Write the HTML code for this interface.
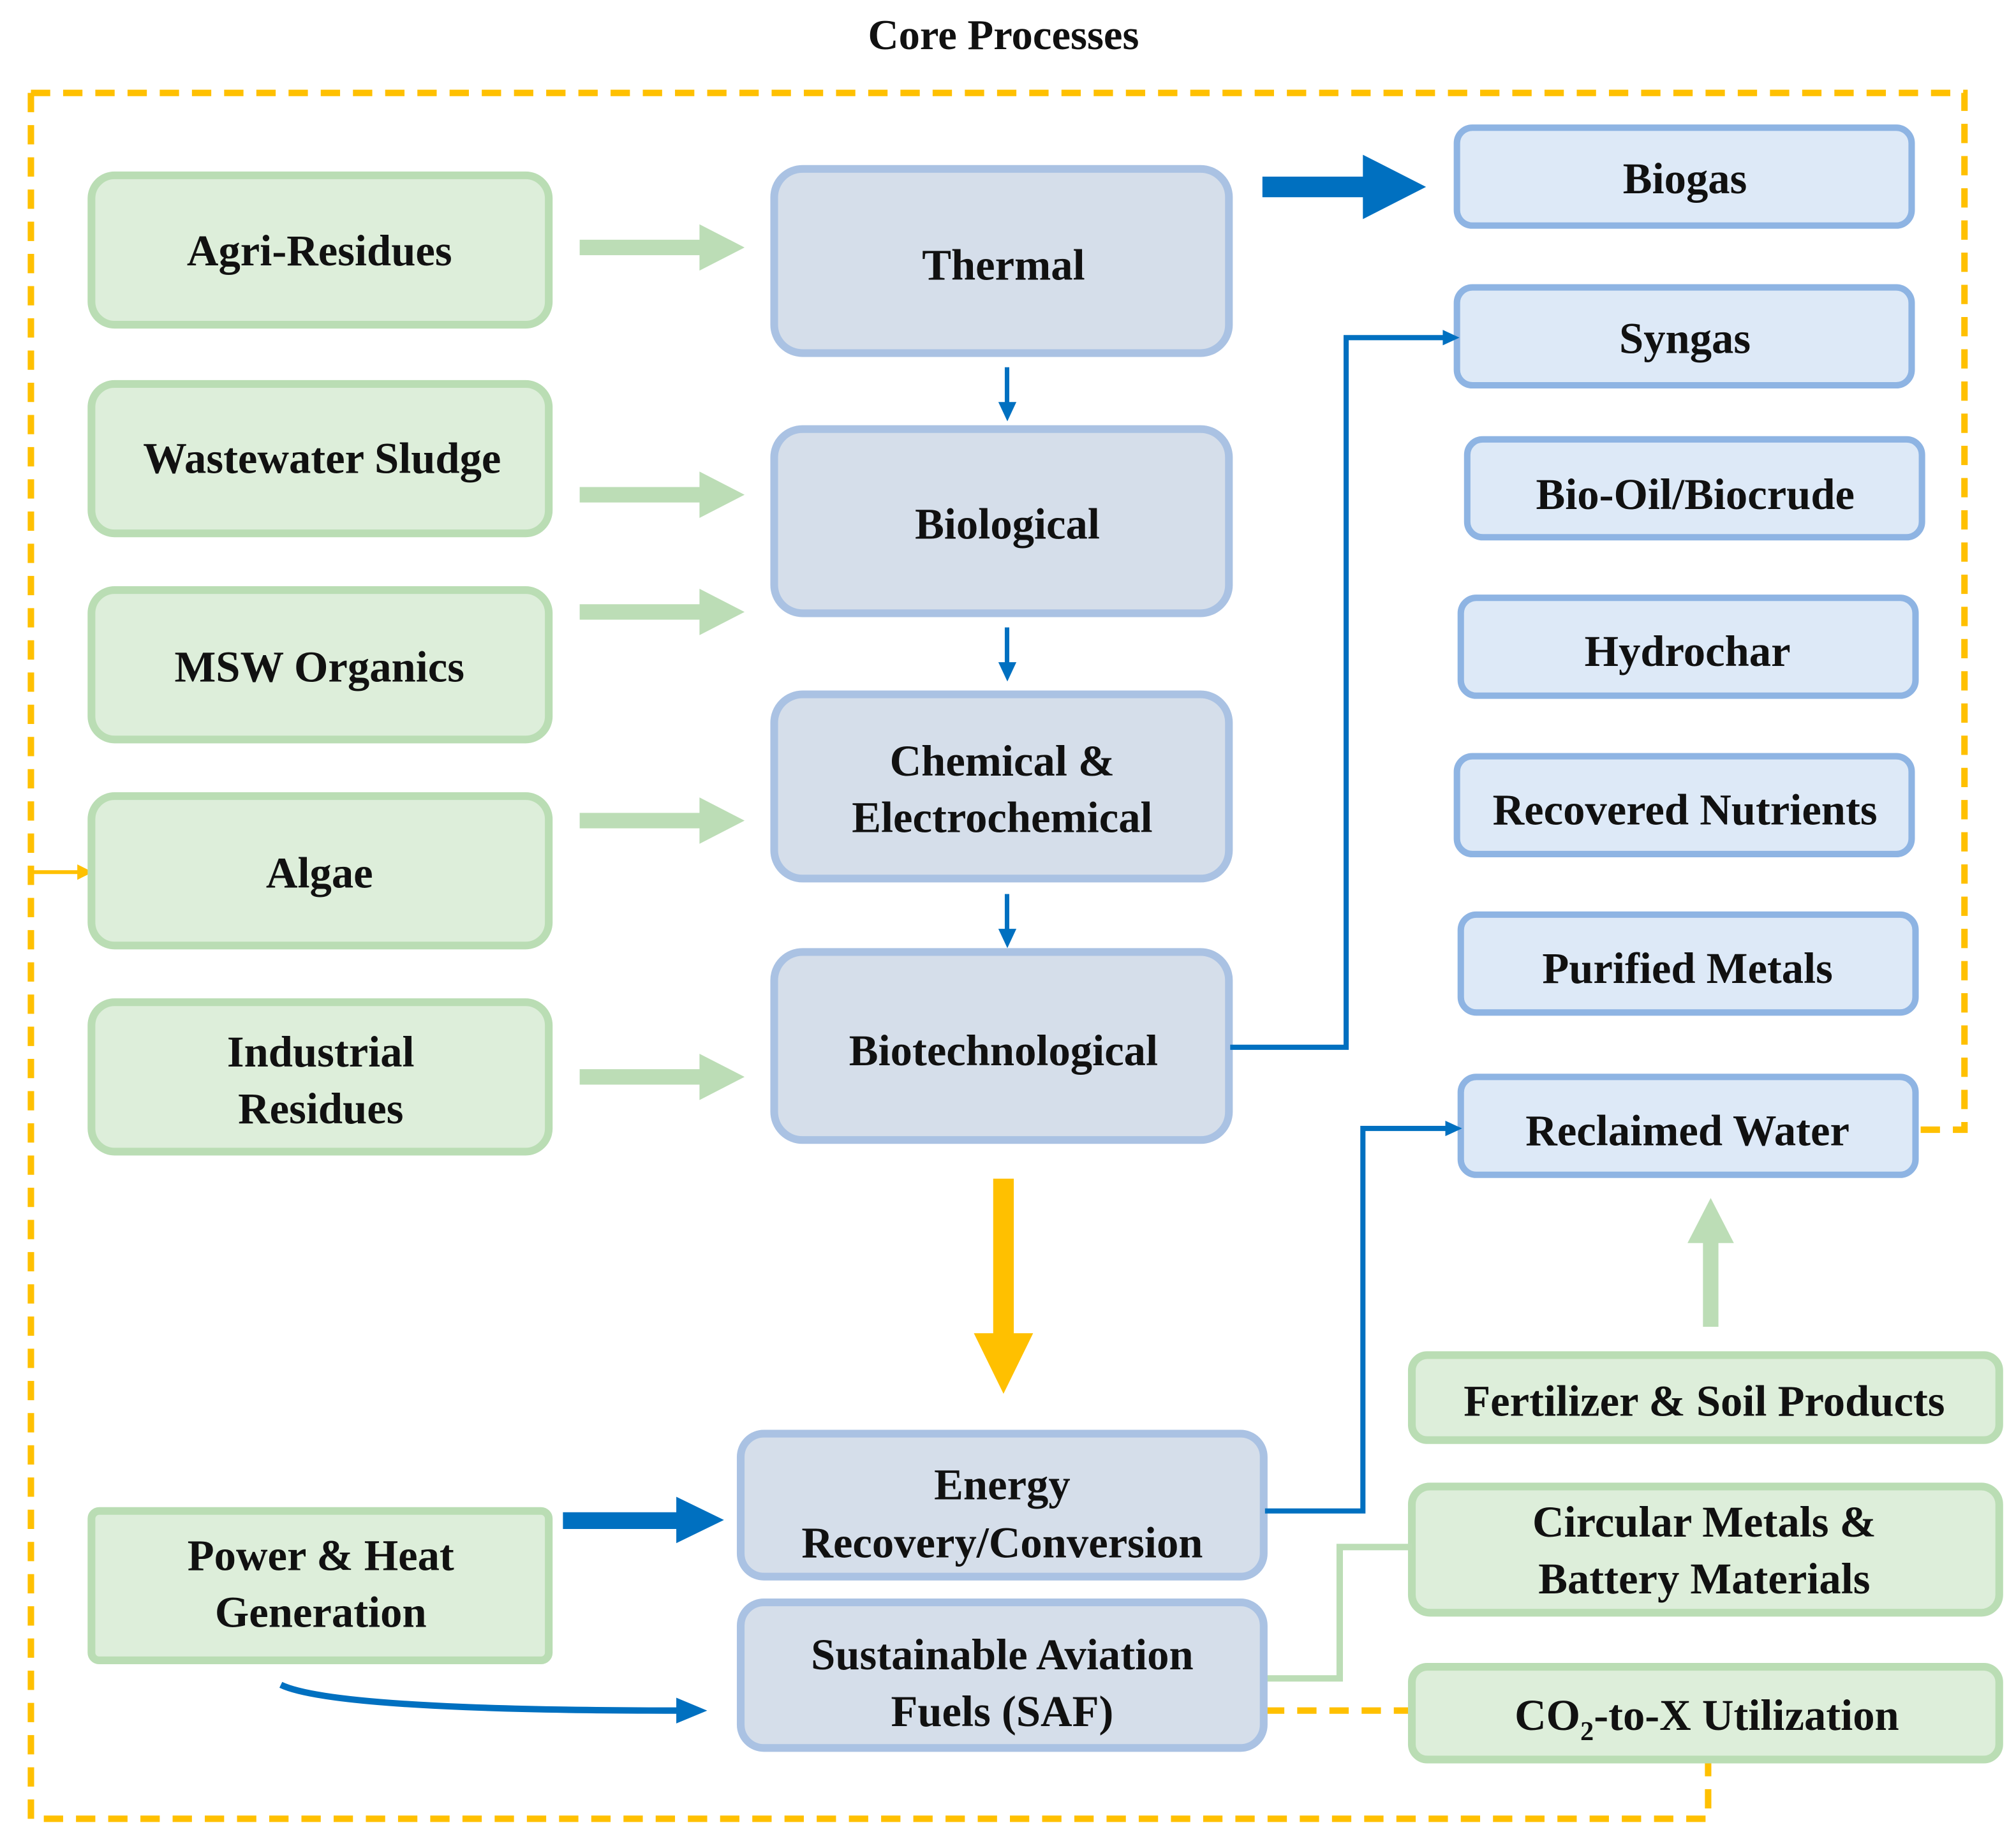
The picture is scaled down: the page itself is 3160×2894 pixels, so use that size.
<!DOCTYPE html>
<html><head><meta charset="utf-8"><style>html,body{margin:0;padding:0;background:#fff}svg{display:block}
svg text{font-family:"Liberation Serif","Times New Roman",serif;font-weight:bold}</style></head>
<body>
<svg width="3160" height="2894" viewBox="0 0 1565 1433" xmlns="http://www.w3.org/2000/svg">
<rect width="1565" height="1433" fill="#fff"/>
<text x="779" y="38" font-size="33" text-anchor="middle" fill="#111">Core Processes</text>
<g fill="none" stroke="#FFC000" stroke-width="5" stroke-dasharray="15,10">
<path d="M24 72 H1525 V877 H1478"/>
<path d="M24 72 V1412 H1326 V1368"/>
<path d="M982 1328 H1095"/>
</g>
<path d="M24 677 H62" stroke="#FFC000" stroke-width="3"/>
<polygon points="72,677 60,671 60,683" fill="#FFC000"/>
<g fill="#DDEEDA" stroke="#BADDB4" stroke-width="6">
<rect x="71" y="136" width="355" height="116" rx="18"/>
<rect x="71" y="298" width="355" height="116" rx="18"/>
<rect x="71" y="458" width="355" height="116" rx="18"/>
<rect x="71" y="618" width="355" height="116" rx="18"/>
<rect x="71" y="778" width="355" height="116" rx="18"/>
<rect x="71" y="1173" width="355" height="116" rx="6"/>
<rect x="1096" y="1052" width="456" height="66" rx="12"/>
<rect x="1096" y="1154" width="456" height="98" rx="14"/>
<rect x="1096" y="1294" width="456" height="72" rx="12"/>
</g>
<g fill="#BCDDB6">
<g id="ga"><rect x="450" y="186" width="95" height="12"/><polygon points="543,174 578,192 543,210"/></g>
<use href="#ga" y="192"/><use href="#ga" y="283"/><use href="#ga" y="445"/><use href="#ga" y="644"/>
<rect x="1322" y="962" width="12" height="68"/><polygon points="1310,965 1328,930 1346,965"/>
</g>
<path d="M982 1303 H1040 V1201 H1096" fill="none" stroke="#BCDDB6" stroke-width="5"/>
<g fill="#D5DEEA" stroke="#AAC2E3" stroke-width="6">
<rect x="601" y="131" width="353" height="143" rx="22"/>
<rect x="601" y="333" width="353" height="143" rx="22"/>
<rect x="601" y="539" width="353" height="143" rx="22"/>
<rect x="601" y="739" width="353" height="146" rx="22"/>
<rect x="575" y="1113" width="406" height="111" rx="18"/>
<rect x="575" y="1244" width="406" height="113" rx="18"/>
</g>
<g fill="#DDE9F7" stroke="#8EB4E3" stroke-width="5">
<rect x="1131" y="99" width="353" height="76" rx="12"/>
<rect x="1131" y="223" width="353" height="76" rx="12"/>
<rect x="1139" y="341" width="353" height="76" rx="12"/>
<rect x="1134" y="464" width="353" height="76" rx="12"/>
<rect x="1131" y="587" width="353" height="76" rx="12"/>
<rect x="1134" y="710" width="353" height="76" rx="12"/>
<rect x="1134" y="836" width="353" height="76" rx="12"/>
</g>
<g fill="#0070C0">
<g id="ba"><rect x="780" y="285" width="3.5" height="30"/><polygon points="775,312 782,327 789,312"/></g>
<use href="#ba" y="202"/><use href="#ba" y="409"/>
<rect x="980" y="137" width="80" height="16"/><polygon points="1058,120 1107,145 1058,170"/>
<rect x="437" y="1174" width="90" height="13"/><polygon points="525,1162 562,1180 525,1198"/>
<polygon points="1120,256 1133,262 1120,268"/>
<polygon points="1122,870 1135,876 1122,882"/>
<polygon points="525,1318 549,1328 525,1338"/>
</g>
<g fill="none" stroke="#0070C0" stroke-width="4">
<path d="M955 813 H1045 V262 H1122"/>
<path d="M982 1173 H1058 V876 H1124"/>
<path d="M218 1308 Q260 1328 530 1328" stroke-width="5"/>
</g>
<rect x="771" y="915" width="16" height="125" fill="#FFC000"/>
<polygon points="756,1035 779,1082 802,1035" fill="#FFC000"/>
<g font-size="34" text-anchor="middle" fill="#111">
<text x="248" y="206">Agri-Residues</text>
<text x="250" y="367">Wastewater Sludge</text>
<text x="248" y="529">MSW Organics</text>
<text x="248" y="689">Algae</text>
<text x="249" y="828">Industrial</text>
<text x="249" y="872">Residues</text>
<text x="249" y="1219">Power &amp; Heat</text>
<text x="249" y="1263">Generation</text>
<text x="779" y="217">Thermal</text>
<text x="782" y="418">Biological</text>
<text x="778" y="602">Chemical &amp;</text>
<text x="778" y="646">Electrochemical</text>
<text x="779" y="827">Biotechnological</text>
<text x="778" y="1164">Energy</text>
<text x="778" y="1209">Recovery/Conversion</text>
<text x="778" y="1296">Sustainable Aviation</text>
<text x="778" y="1340">Fuels (SAF)</text>
<text x="1308" y="150">Biogas</text>
<text x="1308" y="274">Syngas</text>
<text x="1316" y="395">Bio-Oil/Biocrude</text>
<text x="1310" y="517">Hydrochar</text>
<text x="1308" y="640">Recovered Nutrients</text>
<text x="1310" y="763">Purified Metals</text>
<text x="1310" y="889">Reclaimed Water</text>
<text x="1323" y="1099">Fertilizer &amp; Soil Products</text>
<text x="1323" y="1193">Circular Metals &amp;</text>
<text x="1323" y="1237">Battery Materials</text>
<text x="1325" y="1343">CO<tspan font-size="21" dy="8">2</tspan><tspan dy="-8">-to-X Utilization</tspan></text>
</g>
</svg>
</body></html>
